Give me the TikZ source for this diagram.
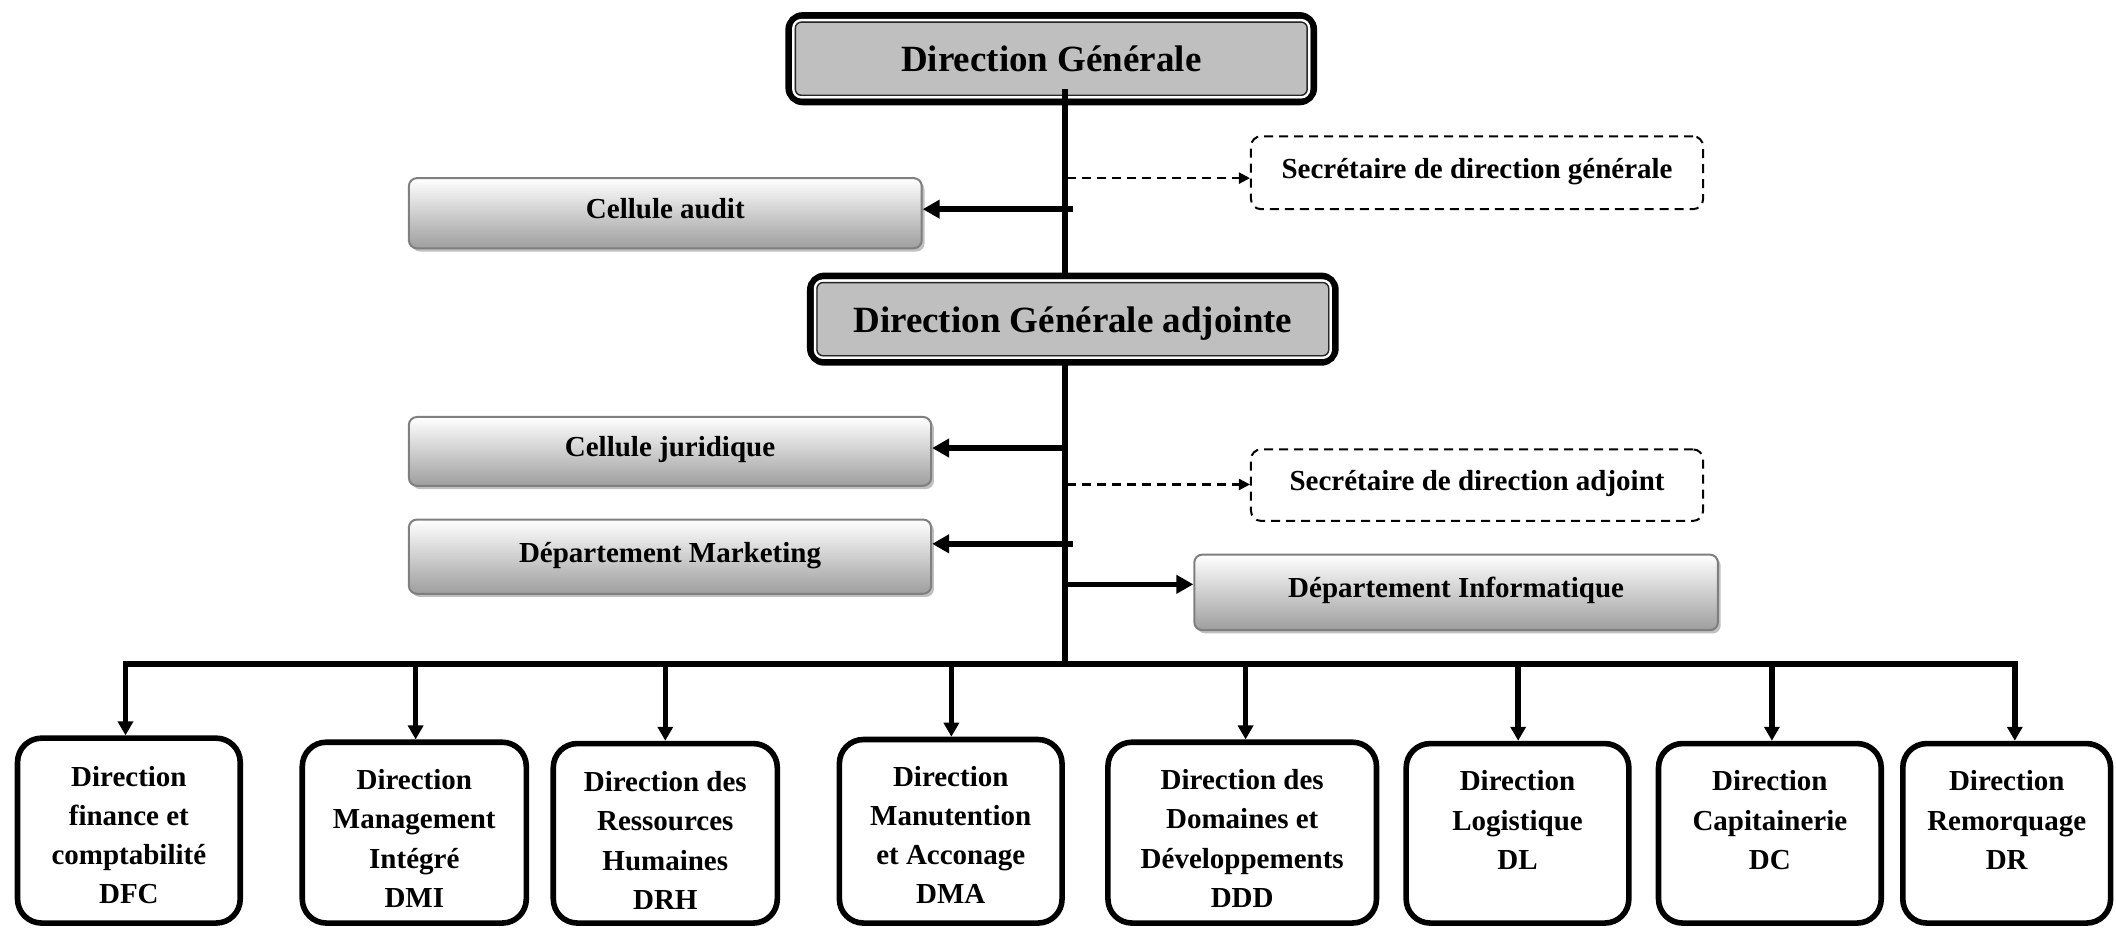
\documentclass[tikz,border=0pt]{standalone}
\usepackage{fontspec}
\setmainfont{Liberation Serif}
\usetikzlibrary{arrows.meta,shadows,calc}
\definecolor{boxgray}{HTML}{BFBFBF}
\definecolor{edgegray}{HTML}{7F7F7F}
\definecolor{shadegray}{HTML}{9E9E9E}
\begin{document}
\begin{tikzpicture}[x=0.6748pt,y=-0.6748pt,
  sz/.style 2 args={minimum width=#1*0.6748pt, minimum height=#2*0.6748pt},
  topbox/.style={draw=black, line width=3.4pt, fill=boxgray, rounded corners=7pt,
    inner sep=0pt, outer sep=0pt, text depth=0pt,
    font=\fontsize{18.5}{22}\selectfont\bfseries},
  topinner/.style={white, line width=1.2pt, rounded corners=4pt},
  topline/.style={black!85, line width=0.7pt, rounded corners=3pt},
  gradbox/.style={draw=edgegray, line width=1pt, top color=white, bottom color=shadegray,
    rounded corners=4pt, inner sep=0pt, text height=10pt, text depth=4.6pt,
    font=\fontsize{14.5}{18}\selectfont\bfseries,
    drop shadow={shadow xshift=1.4pt, shadow yshift=-1.6pt, fill=black!45, opacity=0.55}},
  secbox/.style={draw=black, line width=1pt, dash pattern=on 4.5pt off 3pt, fill=white,
    rounded corners=5pt, inner sep=0pt, text height=10pt, text depth=4.4pt,
    font=\fontsize{14.5}{18}\selectfont\bfseries},
  unitbox/.style={draw=black, line width=2.8pt, fill=white, rounded corners=12pt},
  unittext/.style={align=center, anchor=north, inner sep=0pt,
    font=\fontsize{14.5}{19.6}\selectfont\bfseries},
  trunk/.style={line width=2.8pt, line cap=rect},
  solidarrow/.style={line width=2.8pt, -{Triangle[length=8.5pt,width=9pt]}},
  downarrow/.style={line width=2.8pt, -{Triangle[length=7pt,width=7.5pt]}},
  dasharrow/.style={line width=1.1pt, dash pattern=on 4.5pt off 3pt,
    -{Triangle[length=5.5pt,width=5.5pt]}},
]
\useasboundingbox (0,0) rectangle (1568,689);

% --- Direction Générale ---
\node[topbox, sz={389}{64}] (dg) at (779,43.5) {Direction Générale};
\draw[topinner] ($(dg.north west)+(2.3pt,-2.3pt)$) rectangle ($(dg.south east)+(-2.3pt,2.3pt)$);
\draw[topline] ($(dg.north west)+(3.3pt,-3.3pt)$) rectangle ($(dg.south east)+(-3.3pt,3.3pt)$);

% main vertical line down to the bus
\coordinate (trunktop) at (789,68);
\coordinate (busmid) at (789,492);
\draw[trunk] (trunktop) -- (busmid);

% --- Direction Générale adjointe ---
\node[topbox, sz={389}{64}] (dga) at (795,236.5) {Direction Générale adjointe};
\draw[topinner] ($(dga.north west)+(2.3pt,-2.3pt)$) rectangle ($(dga.south east)+(-2.3pt,2.3pt)$);
\draw[topline] ($(dga.north west)+(3.3pt,-3.3pt)$) rectangle ($(dga.south east)+(-3.3pt,3.3pt)$);

% --- staff units ---
\node[gradbox, sz={380}{52}] (audit) at (493,158) {Cellule audit};
\node[secbox, sz={335}{54}] (secdg) at (1094.5,128) {Secrétaire de direction générale};
\node[gradbox, sz={387}{51}] (jur) at (496.5,334.5) {Cellule juridique};
\node[secbox, sz={335}{53}] (secadj) at (1094.5,359.5) {Secrétaire de direction adjoint};
\node[gradbox, sz={387}{55}] (mkt) at (496.5,412.5) {Département Marketing};
\node[gradbox, sz={388}{56}] (info) at (1079,439) {Département Informatique};

\coordinate (taudit) at (795,155);
\coordinate (tsecdg) at (791,132);
\coordinate (tjur) at (791,332);
\coordinate (tsecadj) at (791,359);
\coordinate (tmkt) at (795,403);
\coordinate (tinfo) at (791,433);

\draw[solidarrow] (taudit) -- (taudit -| audit.east);
\draw[dasharrow] (tsecdg) -- (tsecdg -| secdg.west);
\draw[solidarrow] (tjur) -- (tjur -| jur.east);
\draw[dasharrow] (tsecadj) -- (tsecadj -| secadj.west);
\draw[solidarrow] (tmkt) -- (tmkt -| mkt.east);
\draw[solidarrow] (tinfo) -- (tinfo -| info.west);

% --- operational directions ---
\node[unitbox, sz={165}{137}] (dfc) at (95.5,615.5) {};
\node[unitbox, sz={166}{134}] (dmi) at (307,617) {};
\node[unitbox, sz={166}{133}] (drh) at (493,617.5) {};
\node[unitbox, sz={165}{136}] (dma) at (704.5,616) {};
\node[unitbox, sz={199}{134}] (ddd) at (920.5,617) {};
\node[unitbox, sz={165}{133}] (dl) at (1124.5,617.5) {};
\node[unitbox, sz={165}{133}] (dc) at (1311.5,617.5) {};
\node[unitbox, sz={154}{133}] (dr) at (1487,617.5) {};

\node[unittext] at ($(dfc.north)+(0,22.5)$) {Direction\\finance et\\comptabilité\\DFC};
\node[unittext] at ($(dmi.north)+(0,22)$) {Direction\\Management\\Intégré\\DMI};
\node[unittext] at ($(drh.north)+(0,22.5)$) {Direction des\\Ressources\\Humaines\\DRH};
\node[unittext] at ($(dma.north)+(0,21.5)$) {Direction\\Manutention\\et Acconage\\DMA};
\node[unittext] at ($(ddd.north)+(0,22)$) {Direction des\\Domaines et\\Développements\\DDD};
\node[unittext] at ($(dl.north)+(0,22)$) {Direction\\Logistique\\DL};
\node[unittext] at ($(dc.north)+(0,22)$) {Direction\\Capitainerie\\DC};
\node[unittext] at ($(dr.north)+(0,22)$) {Direction\\Remorquage\\DR};

% horizontal bus
\coordinate (b1) at (93,492);
\coordinate (b2) at (308,492);
\coordinate (b3) at (493,492);
\coordinate (b4) at (705,492);
\coordinate (b5) at (923,492);
\coordinate (b6) at (1125,492);
\coordinate (b7) at (1313,492);
\coordinate (b8) at (1493,492);
\draw[trunk] (b1) -- (b8);

\draw[downarrow] (b1) -- (b1 |- dfc.north);
\draw[downarrow] (b2) -- (b2 |- dmi.north);
\draw[downarrow] (b3) -- (b3 |- drh.north);
\draw[downarrow] (b4) -- (b4 |- dma.north);
\draw[downarrow] (b5) -- (b5 |- ddd.north);
\draw[downarrow] (b6) -- (b6 |- dl.north);
\draw[downarrow] (b7) -- (b7 |- dc.north);
\draw[downarrow] (b8) -- (b8 |- dr.north);
\end{tikzpicture}
\end{document}
